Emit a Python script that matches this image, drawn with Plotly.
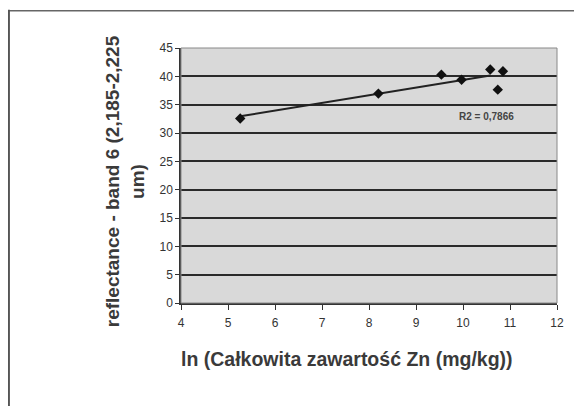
import numpy as np
import plotly.graph_objects as go

# Data
ln_zn = [5.26, 8.20, 9.54, 9.97, 10.58, 10.74, 10.85]
reflectance = [32.55, 36.95, 40.3, 39.4, 41.2, 37.65, 40.9]
trend_end = 10.58
r2_label = "R2 = 0,7866"
r2_pos = (10.50, 33.0)
x_title = "ln (Całkowita zawartość Zn (mg/kg))"
y_title = "reflectance - band 6 (2,185-2,225<br>um)"
x_ticks = [4, 5, 6, 7, 8, 9, 10, 11, 12]
y_ticks = [0, 5, 10, 15, 20, 25, 30, 35, 40, 45]

# linear trend line
coef = np.polyfit(ln_zn, reflectance, 1)
tx = np.array([min(ln_zn), trend_end])
ty = np.polyval(coef, tx)

FONT = "Liberation Sans, Arial, sans-serif"
TICKFONT = "Liberation Sans Narrow, Liberation Sans, Arial, sans-serif"

fig = go.Figure()
fig.add_trace(go.Scatter(x=tx, y=ty, mode="lines",
                         line=dict(color="#222222", width=2), showlegend=False))
fig.add_trace(go.Scatter(x=ln_zn, y=reflectance, mode="markers",
                         marker=dict(symbol="diamond", size=8, color="#111111"),
                         showlegend=False))

fig.update_layout(
    width=574, height=398,
    margin=dict(l=172.5, r=24.5, t=39.5, b=102.5),
    paper_bgcolor="white",
    plot_bgcolor="#d9d9d9",
    font=dict(family=FONT, color="#222222"),
    xaxis=dict(range=[4, 12], tickvals=x_ticks, ticks="outside", ticklen=5,
               tickcolor="#333", showline=True, linecolor="#333", linewidth=1.5,
               showgrid=False, zeroline=False, ticklabelstandoff=3,
               tickfont=dict(size=12, color="#333", family=TICKFONT)),
    yaxis=dict(range=[0, 45], tickvals=y_ticks, ticks="outside", ticklen=4,
               tickcolor="#333", showline=True, linecolor="#333", linewidth=1.5,
               showgrid=True, gridcolor="#2a2a2a", gridwidth=1.6, zeroline=False,
               tickfont=dict(size=12, color="#333", family=TICKFONT)),
    shapes=[
        dict(type="rect", xref="paper", yref="paper", x0=0, x1=1, y0=0, y1=1,
             line=dict(color="#888888", width=1)),
        dict(type="line", xref="paper", yref="paper", x0=-0.459, x1=1.1, y0=1.146, y1=1.146,
             line=dict(color="#666666", width=1.5)),
        dict(type="line", xref="paper", yref="paper", x0=-0.459, x1=-0.459, y0=1.15, y1=-0.5,
             line=dict(color="#555555", width=3)),
    ],
    annotations=[
        dict(text="<b>" + y_title + "</b>", xref="paper", yref="paper", x=-0.150, y=0.476,
             textangle=-90, showarrow=False, align="center",
             font=dict(size=19, color="#3a3a3a", family=FONT),
             xanchor="center", yanchor="middle"),
        dict(text="<b>" + x_title + "</b>", xref="paper", yref="paper", x=0.4416, y=-0.221,
             showarrow=False, xanchor="center", yanchor="middle",
             font=dict(size=19.5, color="#3a3a3a", family=FONT)),
        dict(text="<b>" + r2_label + "</b>", x=r2_pos[0], y=r2_pos[1], showarrow=False,
             xanchor="center", yanchor="middle",
             font=dict(size=10, color="#444444", family=FONT)),
    ],
)
fig.write_html("out.html")
